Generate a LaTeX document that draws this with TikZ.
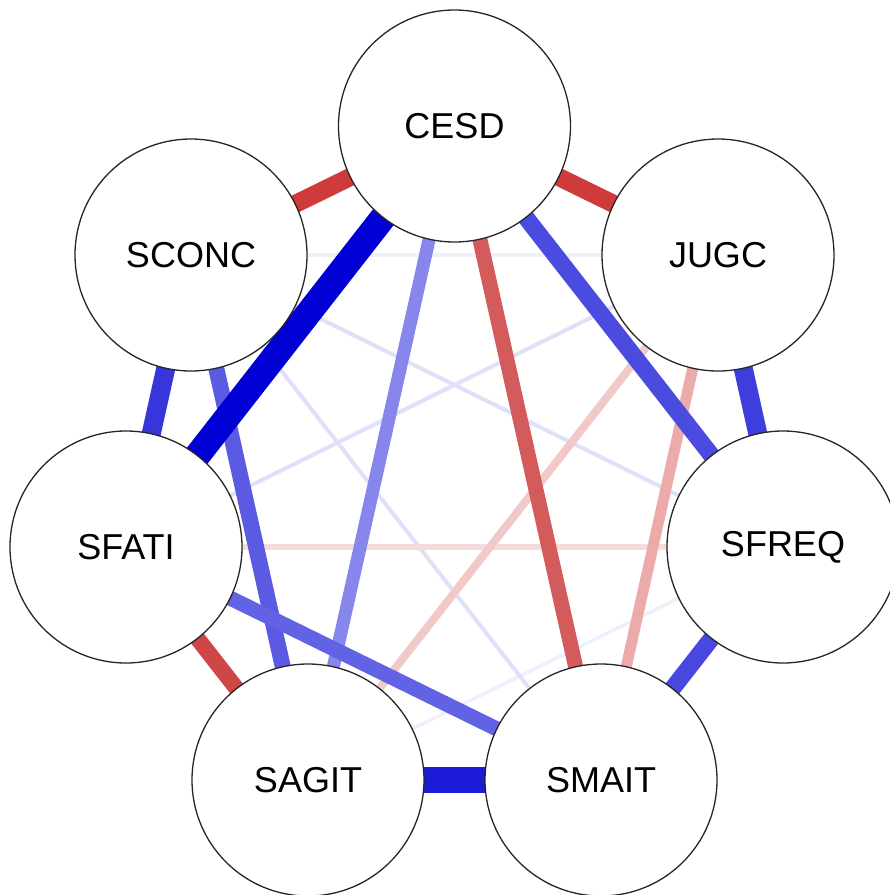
\documentclass[tikz,border=0pt]{standalone}
\usepackage{fontspec}
\setmainfont{Liberation Sans}
\usetikzlibrary{backgrounds}
\definecolor{bA}{HTML}{0000D5}
\definecolor{bB}{HTML}{1C1CD8}
\definecolor{bC}{HTML}{3636DA}
\definecolor{bD}{HTML}{3E3EDC}
\definecolor{bE}{HTML}{4848DF}
\definecolor{bF}{HTML}{4B4BE0}
\definecolor{bG}{HTML}{5A5AE3}
\definecolor{bH}{HTML}{6262E5}
\definecolor{bI}{HTML}{8686EC}
\definecolor{bJ}{HTML}{E0E0F9}
\definecolor{bK}{HTML}{F0F0FC}
\definecolor{rA}{HTML}{CF3B3B}
\definecolor{rB}{HTML}{CF4646}
\definecolor{rC}{HTML}{D45B5B}
\definecolor{rD}{HTML}{EBABAB}
\definecolor{rE}{HTML}{F2C9C9}
\definecolor{rF}{HTML}{F5DCDC}
\begin{document}
\begin{tikzpicture}[x=1pt,y=-1pt,
  vnode/.style={circle, draw=black!85, line width=1.3pt, fill=white,
    minimum size=232pt, inner sep=0pt, font=\fontsize{36}{40}\selectfont},
  edge/.style={line cap=butt}]
\useasboundingbox (0,0) rectangle (890,895);
\node[vnode] (CESD)  at (454.5,126) {CESD};
\node[vnode] (JUGC)  at (718,255)   {JUGC};
\node[vnode] (SFREQ) at (783,547)   {SFREQ};
\node[vnode] (SMAIT) at (601,780)   {SMAIT};
\node[vnode] (SAGIT) at (308,780)   {SAGIT};
\node[vnode] (SFATI) at (126,547)   {SFATI};
\node[vnode] (SCONC) at (191,255)   {SCONC};
\begin{pgfonlayer}{background}
\fill[white] (0,0) rectangle (890,895);
% faint edges
\draw[edge, bK, line width=3.5pt] (SCONC.center) -- (JUGC.center);
\draw[edge, bK, line width=3.5pt] (SFREQ.center) -- (SAGIT.center);
\draw[edge, bJ, line width=4pt] (SCONC.center) -- (SFREQ.center);
\draw[edge, bJ, line width=4pt] (JUGC.center) -- (SFATI.center);
\draw[edge, bJ, line width=4pt] (SCONC.center) -- (SMAIT.center);
\draw[edge, rF, line width=6pt] (SFATI.center) -- (SFREQ.center);
\draw[edge, rE, line width=8pt] (JUGC.center) -- (SAGIT.center);
\draw[edge, rD, line width=11pt] (JUGC.center) -- (SMAIT.center);
% medium edges
\draw[edge, bI, line width=13pt] (CESD.center) -- (SAGIT.center);
\draw[edge, rC, line width=15pt] (CESD.center) -- (SMAIT.center);
\draw[edge, bG, line width=16pt] (SCONC.center) -- (SAGIT.center);
\draw[edge, bH, line width=15pt] (SFATI.center) -- (SMAIT.center);
\draw[edge, rB, line width=16pt] (SFATI.center) -- (SAGIT.center);
\draw[edge, rA, line width=18pt] (CESD.center) -- (SCONC.center);
\draw[edge, rA, line width=18pt] (CESD.center) -- (JUGC.center);
\draw[edge, bF, line width=17pt] (CESD.center) -- (SFREQ.center);
\draw[edge, bE, line width=17pt] (SFREQ.center) -- (SMAIT.center);
\draw[edge, bD, line width=19pt] (JUGC.center) -- (SFREQ.center);
\draw[edge, bC, line width=19pt] (SCONC.center) -- (SFATI.center);
% strong edges
\draw[edge, bB, line width=26pt] (SAGIT.center) -- (SMAIT.center);
\draw[edge, bA, line width=26pt] (CESD.center) -- (SFATI.center);
\end{pgfonlayer}
\end{tikzpicture}
\end{document}
